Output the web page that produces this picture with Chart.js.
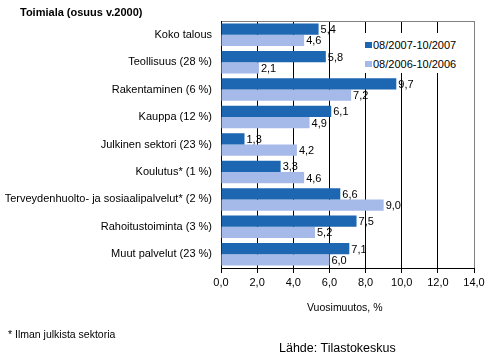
<!DOCTYPE html>
<html>
<head>
<meta charset="utf-8">
<script src="https://cdn.jsdelivr.net/npm/chart.js@4/dist/chart.umd.min.js"></script>
<style>
  html, body { margin: 0; padding: 0; background: #fff; }
  #wrap { position: relative; width: 495px; height: 361px; overflow: hidden; font-family: "Liberation Sans", Arial, sans-serif; color: #000; }
  #c { position: absolute; left: 0; top: 0; }
  .t { position: absolute; white-space: nowrap; line-height: 1; }
  #legend { position: absolute; left: 362px; top: 33px; width: 99px; height: 40px; background: #fff; }
  .leg { position: absolute; left: 3px; white-space: nowrap; font-size: 11px; line-height: 1; }
  .leg span.sw { display: inline-block; width: 7px; height: 6px; margin-right: 1px; vertical-align: 1px; }
</style>
</head>
<body>
<div id="wrap">
  <canvas id="c" width="495" height="361"></canvas>
  <div class="t" style="left:20px; top:7px; font-size:11px; font-weight:bold;">Toimiala (osuus v.2000)</div>
  <div class="t" style="left:307px; top:302px; font-size:10.5px;">Vuosimuutos, %</div>
  <div class="t" style="left:8px; top:329px; font-size:10.5px;">* Ilman julkista sektoria</div>
  <div class="t" style="left:279px; top:342px; font-size:12.5px;">Lähde: Tilastokeskus</div>
  <div id="legend"></div>
</div>
<script>
const categories = [
  "Koko talous",
  "Teollisuus (28 %)",
  "Rakentaminen (6 %)",
  "Kauppa (12 %)",
  "Julkinen sektori (23 %)",
  "Koulutus* (1 %)",
  "Terveydenhuolto- ja sosiaalipalvelut* (2 %)",
  "Rahoitustoiminta (3 %)",
  "Muut palvelut (23 %)"
];
const seriesNames = ["08/2007-10/2007", "08/2006-10/2006"];
const values2007 = [5.4, 5.8, 9.7, 6.1, 1.3, 3.3, 6.6, 7.5, 7.1];
const values2006 = [4.6, 2.1, 7.2, 4.9, 4.2, 4.6, 9.0, 5.2, 6.0];
const xTicks = [0, 2, 4, 6, 8, 10, 12, 14];

const colors = ["#1D66B1", "#A6BAEA"];
const fmt = v => v.toFixed(1).replace('.', ',');
const FONT = "'Liberation Sans', Arial, sans-serif";

const valueLabels = {
  id: 'valueLabels',
  afterDatasetsDraw(chart) {
    const ctx = chart.ctx;
    ctx.save();
    ctx.font = "11px " + FONT;
    ctx.fillStyle = "#000";
    ctx.textBaseline = "middle";
    ctx.textAlign = "left";
    chart.data.datasets.forEach((ds, i) => {
      chart.getDatasetMeta(i).data.forEach((bar, j) => {
        ctx.fillText(fmt(ds.data[j]), bar.x + 2, bar.y + 1);
      });
    });
    ctx.restore();
  }
};

const chart = new Chart(document.getElementById('c'), {
  type: 'bar',
  data: {
    labels: categories,
    datasets: [
      { label: seriesNames[0], data: values2007, backgroundColor: colors[0], categoryPercentage: 0.82, barPercentage: 1.0 },
      { label: seriesNames[1], data: values2006, backgroundColor: colors[1], categoryPercentage: 0.82, barPercentage: 1.0 }
    ]
  },
  options: {
    indexAxis: 'y',
    responsive: false,
    animation: false,
    layout: { padding: { left: 0, right: 21, top: 21, bottom: 0 } },
    plugins: { legend: { display: false }, tooltip: { enabled: false } },
    scales: {
      x: {
        position: 'bottom',
        min: 0, max: 14,
        afterBuildTicks: s => { s.ticks = xTicks.map(v => ({ value: v })); },
        afterFit: s => { s.height = 93; },
        ticks: { color: '#000', font: { family: FONT, size: 11 }, padding: 3, maxRotation: 0,
                 callback: v => fmt(v) },
        grid: { color: ctx => (ctx.tick && ctx.tick.value === 14) ? '#808080' : '#000',
                tickColor: '#000', tickLength: 5, lineWidth: 1 },
        border: { display: true, color: '#000' }
      },
      x2: {
        position: 'top',
        min: 0, max: 14,
        afterFit: s => { s.height = 0; },
        ticks: { display: false },
        grid: { display: false, drawTicks: false },
        border: { display: true, color: '#808080' }
      },
      y: {
        afterFit: s => { s.width = 221; },
        ticks: { color: '#000', font: { family: FONT, size: 11 }, padding: 9, autoSkip: false },
        grid: { display: false, drawTicks: false },
        border: { display: true, color: '#000' }
      }
    }
  },
  plugins: [valueLabels]
});

// HTML legend built from the datasets
const leg = document.getElementById('legend');
const legTops = [7, 26];
chart.data.datasets.forEach((ds, i) => {
  const d = document.createElement('div');
  d.className = 'leg';
  d.style.top = legTops[i] + 'px';
  d.innerHTML = '<span class="sw" style="background:' + ds.backgroundColor + '"></span>' + ds.label;
  leg.appendChild(d);
});
</script>
</body>
</html>
